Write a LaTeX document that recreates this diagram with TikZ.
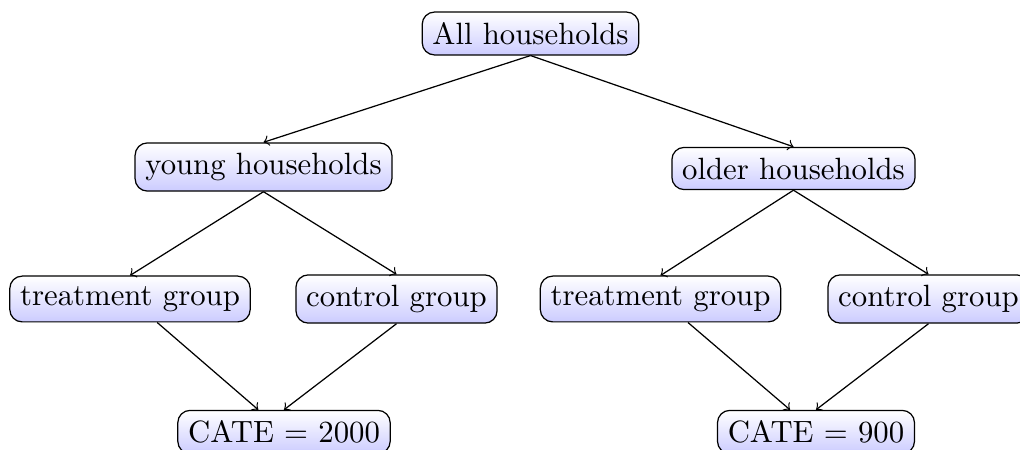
\documentclass[tikz,border=0pt]{standalone}
\begin{document}
\begin{tikzpicture}[x=0.325pt,y=-0.325pt,>=to,
  box/.style={draw, rounded corners, top color=white, bottom color=blue!20}]
\useasboundingbox (0,0) rectangle (1020,450);
\node[box] (all) at (530.5,33.5) {All households};
\node[box] (young) at (263.5,167) {young households};
\node[box] (older) at (793.5,168.5) {older households};
\node[box] (t1) at (130,299) {treatment group};
\node[box] (c1) at (396.5,299) {control group};
\node[box] (t2) at (660.5,299) {treatment group};
\node[box] (c2) at (928.5,299) {control group};
\node[box] (cate1) at (284,432) {CATE $=$ 2000};
\node[box] (cate2) at (816,432) {CATE $=$ 900};
\draw[->] (all.south) -- (young.north);
\draw[->] (all.south) -- (older.north);
\draw[->] (young.south) -- (t1.north);
\draw[->] (young.south) -- (c1.north);
\draw[->] (older.south) -- (t2.north);
\draw[->] (older.south) -- (c2.north);
\draw[->] (t1) -- (cate1);
\draw[->] (c1.south) -- (cate1.north);
\draw[->] (t2) -- (cate2);
\draw[->] (c2.south) -- (cate2.north);
\end{tikzpicture}
\end{document}
